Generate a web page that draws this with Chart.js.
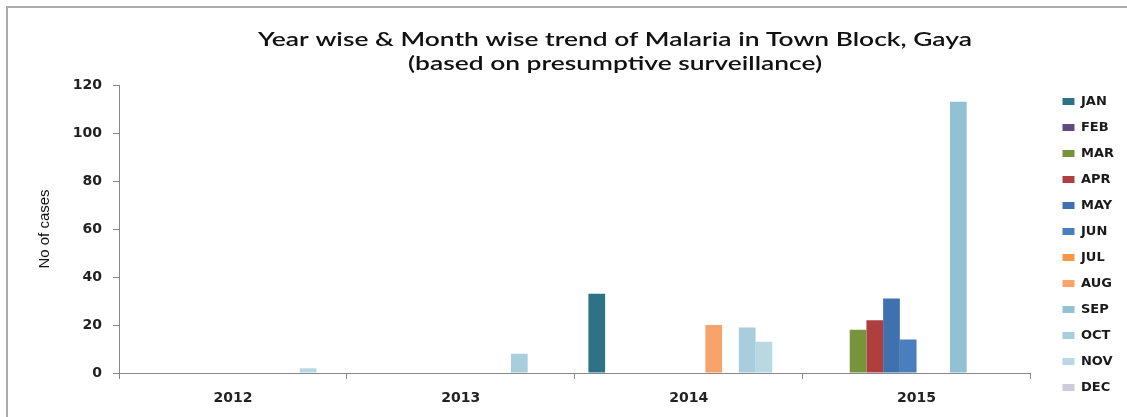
<!DOCTYPE html>
<html>
<head>
<meta charset="utf-8">
<title>Malaria trend - Town Block, Gaya</title>
<script src="https://cdn.jsdelivr.net/npm/chart.js@4.4.1/dist/chart.umd.min.js"></script>
<style>
  html, body { margin: 0; padding: 0; background: #fff; overflow: hidden; }
  #frame {
    position: absolute; left: 6px; top: 6px; width: 1200px; height: 500px;
    border-left: 2px solid #ababab; border-top: 2px solid #ababab;
  }
  #wrap { position: absolute; left: 0; top: 0; width: 1127px; height: 417px; }
</style>
</head>
<body>
<div id="frame"></div>
<div id="wrap"><canvas id="malariaChart" width="1127" height="417"></canvas></div>
<script>
// years on the x axis, one dataset per month
const years = ['2012', '2013', '2014', '2015'];
const months = ['JAN', 'FEB', 'MAR', 'APR', 'MAY', 'JUN', 'JUL', 'AUG', 'SEP', 'OCT', 'NOV', 'DEC'];

// cases per month, ordered 2012..2015
const janCases = [0, 0, 33, 0];
const febCases = [0, 0, 0, 0];
const marCases = [0, 0, 0, 18];
const aprCases = [0, 0, 0, 22];
const mayCases = [0, 0, 0, 31];
const junCases = [0, 0, 0, 14];
const julCases = [0, 0, 0, 0];
const augCases = [0, 0, 20, 0];
const sepCases = [0, 0, 0, 113];
const octCases = [0, 8, 19, 0];
const novCases = [2, 0, 13, 0];
const decCases = [0, 0, 0, 0];

const yTicks = [0, 20, 40, 60, 80, 100, 120];

const monthColors = [
  '#2f7286', '#5f4b7d', '#77933c', '#ae3f3e', '#3e71ae', '#4a7ebd',
  '#f79646', '#f7a36b', '#92c1d4', '#a8cddd', '#b9d8e3', '#cccadc'
];

const monthValues = [janCases, febCases, marCases, aprCases, mayCases, junCases,
  julCases, augCases, sepCases, octCases, novCases, decCases];

const datasets = months.map((m, i) => ({
  label: m,
  data: monthValues[i],
  backgroundColor: monthColors[i],
  borderWidth: 0,
  categoryPercentage: 0.88,
  barPercentage: 1.0
}));

// two-line heading, stretched a little to the wide look of the original
const headingLines = [
  'Year wise & Month wise trend of Malaria in Town Block, Gaya',
  '(based on presumptive surveillance)'
];
const headingPlugin = {
  id: 'heading',
  afterDraw(chart) {
    const ctx = chart.ctx;
    ctx.save();
    ctx.fillStyle = '#111';
    ctx.font = '600 20px Lato, "Open Sans", sans-serif';
    const stretch = 714 / ctx.measureText(headingLines[0]).width;
    ctx.textAlign = 'center';
    ctx.textBaseline = 'middle';
    ctx.translate(615, 0);
    ctx.scale(stretch, 1);
    ctx.fillText(headingLines[0], 0, 40);
    ctx.fillText(headingLines[1], 0, 64);
    ctx.restore();
  }
};

// empty helper axes: they only reserve space around the plot
const spacer = size => ({
  type: 'linear',
  display: true,
  afterFit: s => {
    if (s.isHorizontal()) s.height = size; else s.width = size;
  },
  grid: { display: false },
  border: { display: false },
  ticks: { display: false }
});

const ctx = document.getElementById('malariaChart').getContext('2d');
new Chart(ctx, {
  type: 'bar',
  data: { labels: years, datasets: datasets },
  options: {
    responsive: false,
    animation: false,
    layout: { padding: { top: 82, left: 0, right: 3, bottom: 0 } },
    plugins: {
      title: { display: false },
      tooltip: { enabled: false },
      legend: {
        position: 'right',
        align: 'start',
        labels: {
          boxWidth: 12,
          boxHeight: 7,
          padding: 13,
          color: '#1a1a1a',
          font: { family: '"DejaVu Sans", sans-serif', size: 13, weight: 'bold' }
        }
      }
    },
    scales: {
      x: {
        afterFit: s => { s.height = 44; },
        grid: { display: true, drawOnChartArea: false, offset: true, tickLength: 6, color: '#888' },
        border: { color: '#888', width: 1 },
        ticks: {
          padding: 11,
          color: '#222',
          font: { family: '"DejaVu Sans", sans-serif', size: 14, weight: 'bold' }
        }
      },
      y: {
        min: 0,
        max: 120,
        afterFit: s => { s.width = 119; },
        afterBuildTicks: s => { s.ticks = yTicks.map(v => ({ value: v })); },
        grid: { display: true, drawOnChartArea: false, tickLength: 6, color: '#888' },
        border: { color: '#888', width: 1 },
        ticks: {
          padding: 11,
          color: '#222',
          font: { family: '"DejaVu Sans", sans-serif', size: 14, weight: 'bold' }
        },
        title: {
          display: true,
          text: 'No of cases',
          color: '#111',
          padding: { top: 36, bottom: 0 },
          font: { family: '"Liberation Sans Narrow", "Liberation Sans", sans-serif', size: 15 }
        }
      },
      gapRight: Object.assign(spacer(19), { position: 'right' }),
      gapTop: Object.assign(spacer(3), { position: 'top', axis: 'x' })
    }
  },
  plugins: [headingPlugin]
});
</script>
</body>
</html>
